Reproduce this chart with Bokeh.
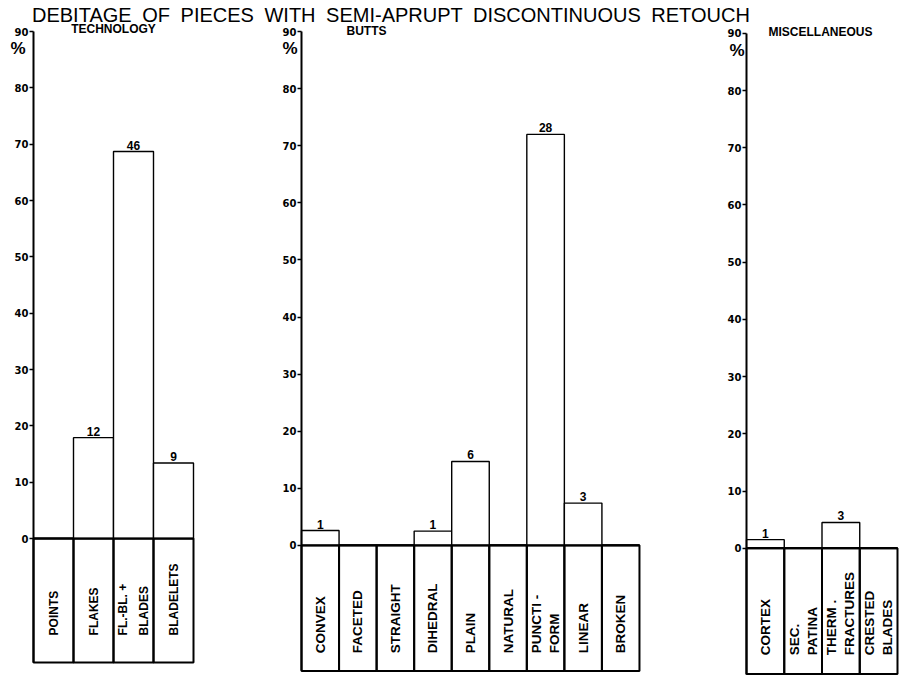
from math import pi
from bokeh.plotting import figure
from bokeh.models import Range1d, FixedTicker, Div, ColumnDataSource
from bokeh.layouts import row, column
from bokeh.embed import file_html
from bokeh.resources import INLINE
from bokeh.core.properties import value

title_text = "DEBITAGE OF PIECES WITH SEMI-APRUPT DISCONTINUOUS RETOUCH"

tech_title = "TECHNOLOGY"
tech_cats = ["POINTS", "FLAKES", "FL.-BL. +\nBLADES", "BLADELETS"]
tech_pct = [0.0, 17.9, 68.7, 13.4]
tech_counts = ["", "12", "46", "9"]

butt_title = "BUTTS"
butt_cats = ["CONVEX", "FACETED", "STRAIGHT", "DIHEDRAL", "PLAIN", "NATURAL",
             "PUNCTI -\nFORM", "LINEAR", "BROKEN"]
butt_pct = [2.6, 0.0, 0.0, 2.5, 14.7, 0.0, 72.0, 7.4, 0.0]
butt_counts = ["1", "", "", "1", "6", "", "28", "3", ""]

misc_title = "MISCELLANEOUS"
misc_cats = ["CORTEX", "SEC.\nPATINA", "THERM .\nFRACTURES", "CRESTED\nBLADES"]
misc_pct = [1.5, 0.0, 4.5, 0.0]
misc_counts = ["1", "", "3", ""]

y_ticks = [0, 10, 20, 30, 40, 50, 60, 70, 80, 90]
box_depth = -22.0

FONT = "Liberation Sans"


def make_panel(cats, pct, counts, subtitle, sub_x, sub_y, width, height,
               x_rng, y_rng, label_y, label_size, label_lh, pct_offset):
    p = figure(x_range=Range1d(*x_rng), y_range=Range1d(*y_rng),
               width=width, height=height,
               min_border_left=0, min_border_right=0,
               min_border_top=0, min_border_bottom=0,
               x_axis_location=None, toolbar_location=None,
               output_backend="svg", background_fill_color="white",
               border_fill_color="white")
    p.outline_line_color = None
    p.grid.grid_line_color = None

    ax = p.yaxis[0]
    ax.fixed_location = 0
    ax.bounds = (box_depth, 90)
    ax.ticker = FixedTicker(ticks=y_ticks)
    ax.axis_line_width = 2
    ax.axis_line_color = "black"
    ax.major_tick_in = 0
    ax.major_tick_out = 4
    ax.major_tick_line_width = 1.5
    ax.minor_tick_line_color = None
    ax.major_label_standoff = 1
    ax.major_label_text_font = "DejaVu Sans"
    ax.major_label_text_font_style = "bold"
    ax.major_label_text_font_size = "10px"
    ax.major_label_text_color = "black"

    xs = [i + 0.5 for i in range(len(cats))]
    src = ColumnDataSource(dict(x=xs, top=pct, counts=counts, names=cats))

    # label boxes below zero
    p.vbar(x="x", top=0, bottom=box_depth, width=1.0, source=src,
           fill_color=None, line_color="black", line_width=2)
    # bars
    p.vbar(x="x", top="top", bottom=0, width=1.0, source=src,
           fill_color="white", line_color="black", line_width=1.4)
    # zero line emphasis
    p.vbar(x="x", top=0, bottom=0, width=1.0, source=src,
           fill_color=None, line_color="black", line_width=2.2)

    p.text(x="x", y="top", text="counts", source=src,
           text_align="center", text_baseline="bottom", y_offset=-2,
           text_font=value(FONT), text_font_style="bold",
           text_font_size="12px", text_color="black")

    p.text(x="x", y=label_y, text="names", source=src, angle=pi / 2,
           text_align="left", text_baseline="middle",
           text_font=value(FONT), text_font_style="bold",
           text_font_size=label_size, text_color="black",
           text_line_height=label_lh)

    p.text(x=[0], y=[87.0], text=["%"], x_offset=pct_offset,
           text_align="right", text_baseline="middle",
           text_font=value(FONT), text_font_style="bold",
           text_font_size="17px", text_color="black")
    p.text(x=[sub_x], y=[sub_y], text=[subtitle],
           text_align="center", text_baseline="middle",
           text_font=value(FONT), text_font_style="bold",
           text_font_size="12px", text_color="black")
    return p


p1 = make_panel(tech_cats, tech_pct, tech_counts, tech_title, 2.0, 90.4,
                width=263, height=645, x_rng=(-0.825, 5.75), y_rng=(-22.9, 91.6),
                label_y=-17.2, label_size="12px", label_lh=1.45, pct_offset=-8)
p2 = make_panel(butt_cats, butt_pct, butt_counts, butt_title, 1.73, 90.1,
                width=416, height=653, x_rng=(-1.012, 10.066), y_rng=(-22.8, 91.6),
                label_y=-18.9, label_size="13.5px", label_lh=1.2, pct_offset=-4)
p3 = make_panel(misc_cats, misc_pct, misc_counts, misc_title, 1.96, 90.2,
                width=232, height=655, x_rng=(-1.775, 4.371), y_rng=(-22.6, 91.9),
                label_y=-18.7, label_size="13.5px", label_lh=1.2, pct_offset=-2)

title = Div(text=title_text, width=911, height=22, margin=0,
            styles={"font-family": "Liberation Sans, Arial, sans-serif",
                    "font-size": "20px", "line-height": "30px",
                    "padding-left": "32px", "word-spacing": "5px",
                    "white-space": "nowrap", "color": "black",
                    "overflow": "visible"})

layout = column(title, row(p1, p2, p3, spacing=0), spacing=0)

open("out.html", "w").write(file_html(layout, INLINE, title="Debitage"))
